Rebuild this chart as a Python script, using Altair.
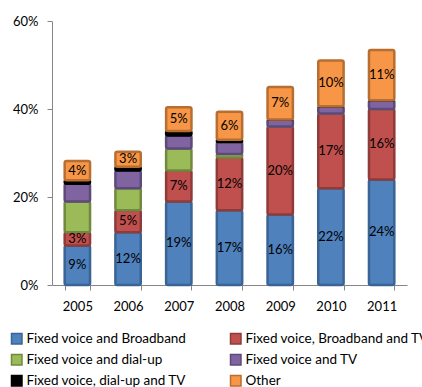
import altair as alt
import pandas as pd

years = ["2005", "2006", "2007", "2008", "2009", "2010", "2011"]
series = [
    "Fixed voice and Broadband",
    "Fixed voice, Broadband and TV",
    "Fixed voice and dial-up",
    "Fixed voice and TV",
    "Fixed voice, dial-up and TV",
    "Other",
]
broadband = [9, 12, 19, 17, 16, 22, 24]
broadband_tv = [3, 5, 7, 12, 20, 17, 16]
dialup = [7, 5, 5, 0.8, 0, 0, 0]
voice_tv = [4, 4, 3, 2.7, 1.6, 1.6, 2]
dialup_tv = [0.8, 0.9, 1, 0.5, 0, 0, 0]
other = [4.4, 3.4, 5.4, 6.4, 7.4, 10.4, 11.4]
labelled = ["Fixed voice and Broadband", "Fixed voice, Broadband and TV", "Other"]

fills = ["#4F81BD", "#C0504D", "#9BBB59", "#8064A2", "#000000", "#F79646"]
strokes = ["#3A6496", "#8E3B39", "#71893F", "#5E4A7A", "#000000", "#B76E30"]

# legend entries listed column by column (grid fills columns first)
legend_order = [series[0], series[2], series[4], series[1], series[3], series[5]]

rows = []
for si, (name, vals) in enumerate(zip(series, [broadband, broadband_tv, dialup, voice_tv, dialup_tv, other])):
    for y, v in zip(years, vals):
        rows.append({"year": y, "series": name, "value": v, "order": si,
                     "show": name in labelled})
df = pd.DataFrame(rows)

font = "Lato"

base = alt.Chart(df).transform_stack(
    stack="value", groupby=["year"], as_=["y0", "y1"],
    sort=[alt.SortField("order", "ascending")]
)

xenc = alt.X("year:N", title=None, sort=years,
             scale=alt.Scale(paddingInner=0.5, paddingOuter=0.25),
             axis=alt.Axis(labelAngle=0, tickBand="extent", domainColor="#868686",
                           tickColor="#868686", tickSize=5, labelPadding=10,
                           labelFont=font, labelFontSize=13, labelColor="#000000"))

def make_legend():
    return alt.Legend(title=None, orient="none", legendX=-42, legendY=311,
                      columns=2, columnPadding=40, rowPadding=4,
                      values=legend_order,
                      symbolType="square", symbolSize=110,
                      symbolStrokeWidth=1.5, labelFont=font,
                      labelFontSize=13.5, labelColor="#000000",
                      labelLimit=400, labelOffset=3)

bars = base.mark_bar(strokeWidth=2.5, cornerRadius=2).encode(
    x=xenc,
    y=alt.Y("y0:Q", title=None,
            scale=alt.Scale(domain=[0, 60]),
            axis=alt.Axis(values=[0, 20, 40, 60], labelExpr="datum.value + '%'",
                          grid=False, domainColor="#868686", tickColor="#868686",
                          tickSize=5, labelPadding=9, labelFont=font,
                          labelFontSize=13, labelColor="#000000")),
    y2="y1:Q",
    color=alt.Color("series:N", sort=series,
                    scale=alt.Scale(domain=series, range=fills),
                    legend=make_legend()),
    stroke=alt.Stroke("series:N", sort=series,
                      scale=alt.Scale(domain=series, range=strokes),
                      legend=make_legend()),
    order=alt.Order("order:Q"),
)

labels = base.transform_filter("datum.show").transform_calculate(
    mid="(datum.y0 + datum.y1) / 2",
    txt="format(datum.value, '.0f') + '%'"
).mark_text(font=font, fontSize=13, color="#000000").encode(
    x=alt.X("year:N", sort=years),
    y=alt.Y("mid:Q"),
    text="txt:N",
)

chart = alt.layer(bars, labels).properties(
    width=355, height=264,
    padding={"left": 52, "top": 21, "right": 15, "bottom": 102},
    autosize="none",
).configure_view(stroke=None)

chart.save("out.html", embed_options={"renderer": "svg", "actions": False})
